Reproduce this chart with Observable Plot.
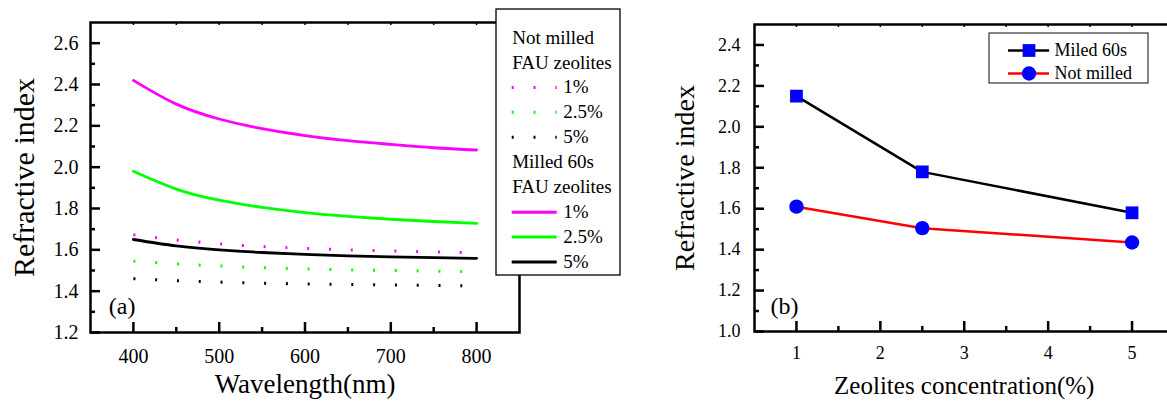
<!DOCTYPE html>
<html><head><meta charset="utf-8">
<script src="https://cdn.jsdelivr.net/npm/d3@7"></script>
<script src="https://cdn.jsdelivr.net/npm/@observablehq/plot@0.6"></script>
<style>
body{margin:0;background:#fff;}
#wrap{position:relative;width:1167px;height:401px;overflow:hidden;background:#fff;}
#wrap > svg{position:absolute;}
#wrap svg, #wrap svg text{font-family:"Liberation Serif","Times New Roman",serif !important;}
</style></head><body><div id="wrap"></div>
<script>
// ---------- data: panel (a) ----------
const wavelengths = [400, 450, 500, 550, 600, 650, 700, 750, 800];
const milled1  = [2.420, 2.305, 2.233, 2.186, 2.153, 2.128, 2.110, 2.094, 2.083];
const milled25 = [1.980, 1.894, 1.840, 1.805, 1.780, 1.762, 1.748, 1.737, 1.728];
const milled5  = [1.650, 1.619, 1.600, 1.587, 1.578, 1.571, 1.566, 1.562, 1.559];
const notMilled1  = [1.673, 1.648, 1.629, 1.616, 1.607, 1.600, 1.595, 1.590, 1.586];
const notMilled25 = [1.545, 1.532, 1.522, 1.514, 1.508, 1.503, 1.500, 1.497, 1.494];
const notMilled5  = [1.460, 1.451, 1.444, 1.439, 1.435, 1.432, 1.430, 1.428, 1.426];
const xTicksA = [400, 500, 600, 700, 800];
const xMinorA = [450, 550, 650, 750];
const yTicksA = [1.2, 1.4, 1.6, 1.8, 2.0, 2.2, 2.4, 2.6];
const yMinorA = [1.3, 1.5, 1.7, 1.9, 2.1, 2.3, 2.5];
const legendALabels = ["Not milled", "FAU zeolites", "1%", "2.5%", "5%", "Milled 60s", "FAU zeolites", "1%", "2.5%", "5%"];
const legendAColors = [null, null, "#FF00FF", "#00FF00", "#000000", null, null, "#FF00FF", "#00FF00", "#000000"];
const legendADotted = [false, false, true, true, true, false, false, false, false, false];

// ---------- data: panel (b) ----------
const concentrations = [1, 2.5, 5];
const miled60s = [2.15, 1.78, 1.58];
const notMilled = [1.61, 1.505, 1.435];
const xTicksB = [1, 2, 3, 4, 5];
const xMinorB = [1.5, 2.5, 3.5, 4.5];
const yTicksB = [1.0, 1.2, 1.4, 1.6, 1.8, 2.0, 2.2, 2.4];
const yMinorB = [1.1, 1.3, 1.5, 1.7, 1.9, 2.1, 2.3];
const legendBLabels = ["Miled 60s", "Not milled"];
const legendBLine = ["#000000", "#FF0000"];
const legendBSymbol = ["square", "circle"];

const FONT = '"Liberation Serif", "Times New Roman", serif';
const fmt1 = d3.format(".1f");
const wrap = document.getElementById("wrap");

function ticks(xMaj, xMin, yMaj, yMin, fw, fh) {
  return [
    Plot.ruleX(xMaj, {x: d => d, insetTop: fh - 10, stroke: "black", strokeWidth: 2.5}),
    Plot.ruleX(xMin, {x: d => d, insetTop: fh - 5, stroke: "black", strokeWidth: 2.5}),
    Plot.ruleY(yMaj, {y: d => d, insetRight: fw - 10, stroke: "black", strokeWidth: 2.5}),
    Plot.ruleY(yMin, {y: d => d, insetRight: fw - 5, stroke: "black", strokeWidth: 2.5}),
    Plot.ruleX([...xMaj, ...xMin], {x: d => d, insetBottom: fh - 3, stroke: "black", strokeWidth: 1.5})
  ];
}

// ---------- panel (a) ----------
const seriesA = [
  {values: notMilled1, color: "#FF00FF", dotted: true},
  {values: notMilled25, color: "#00FF00", dotted: true},
  {values: notMilled5, color: "#000000", dotted: true},
  {values: milled1, color: "#FF00FF", dotted: false},
  {values: milled25, color: "#00FF00", dotted: false},
  {values: milled5, color: "#000000", dotted: false}
];
const A = {W: 600, H: 401, mL: 90, mR: 81, mT: 22, mB: 69};
const fwA = A.W - A.mL - A.mR, fhA = A.H - A.mT - A.mB;
const plotA = Plot.plot({
  width: A.W, height: A.H,
  marginLeft: A.mL, marginRight: A.mR, marginTop: A.mT, marginBottom: A.mB,
  style: {fontFamily: FONT, background: "transparent"},
  axis: null,
  x: {domain: [350, 850]},
  y: {domain: [1.2, 2.7]},
  marks: [
    ...seriesA.map(s => Plot.line(wavelengths.map((w, i) => ({w, n: s.values[i]})), {
      x: "w", y: "n", stroke: s.color, curve: "natural",
      strokeWidth: s.dotted ? 3 : 2.8,
      strokeLinecap: s.dotted ? "butt" : "round",
      strokeDasharray: s.dotted ? "2,19.8" : null
    })),
    Plot.frame({stroke: "black", strokeWidth: 2.5}),
    ...ticks(xTicksA, xMinorA, yTicksA, yMinorA, fwA, fhA),
    Plot.text(yTicksA, {x: 350, y: d => d, text: d => fmt1(d), textAnchor: "end", dx: -12, fontSize: 20, fill: "black"}),
    Plot.text(xTicksA, {x: d => d, y: 1.2, text: d => String(d), lineAnchor: "top", dy: 16, fontSize: 20, fill: "black"}),
    Plot.text(["Wavelength(nm)"], {frameAnchor: "bottom", textAnchor: "middle", lineAnchor: "bottom", dy: 60.7, fontSize: 27, fill: "black"}),
    Plot.text(["Refractive index"], {frameAnchor: "left", rotate: -90, textAnchor: "middle", lineAnchor: "bottom", dx: -56.7, fontSize: 30, fill: "black"}),
    Plot.text(["(a)"], {frameAnchor: "bottom-left", textAnchor: "start", lineAnchor: "bottom", dx: 18.3, dy: -18.7, fontSize: 24, fill: "black"})
  ]
});
plotA.style.left = "0px"; plotA.style.top = "0px";
wrap.appendChild(plotA);

// ---------- panel (b) ----------
const B = {W: 600, H: 401, mL: 154, mR: 26.5, mT: 24, mB: 70};
const fwB = B.W - B.mL - B.mR, fhB = B.H - B.mT - B.mB;
const rowsMiled = concentrations.map((c, i) => ({c, n: miled60s[i]}));
const rowsNot = concentrations.map((c, i) => ({c, n: notMilled[i]}));
const plotB = Plot.plot({
  width: B.W, height: B.H,
  marginLeft: B.mL, marginRight: B.mR, marginTop: B.mT, marginBottom: B.mB,
  style: {fontFamily: FONT, background: "transparent"},
  axis: null,
  x: {domain: [0.5, 5.5]},
  y: {domain: [1.0, 2.5]},
  marks: [
    Plot.line(rowsMiled, {x: "c", y: "n", stroke: "#000000", strokeWidth: 2.5}),
    Plot.line(rowsNot, {x: "c", y: "n", stroke: "#FF0000", strokeWidth: 2.5}),
    Plot.dot(rowsMiled, {x: "c", y: "n", symbol: "square", r: 7.2, fill: "#0000FF"}),
    Plot.dot(rowsNot, {x: "c", y: "n", symbol: "circle", r: 7.2, fill: "#0000FF"}),
    Plot.frame({stroke: "black", strokeWidth: 2.5}),
    ...ticks(xTicksB, xMinorB, yTicksB, yMinorB, fwB, fhB),
    Plot.text(yTicksB, {x: 0.5, y: d => d, text: d => fmt1(d), textAnchor: "end", dx: -14, fontSize: 18, fill: "black"}),
    Plot.text(xTicksB, {x: d => d, y: 1.0, text: d => String(d), lineAnchor: "top", dy: 15, fontSize: 18, fill: "black"}),
    Plot.text(["Zeolites concentration(%)"], {frameAnchor: "bottom", textAnchor: "middle", lineAnchor: "bottom", dy: 62.3, fontSize: 25, fill: "black"}),
    Plot.text(["Refractive index"], {frameAnchor: "left", rotate: -90, textAnchor: "middle", lineAnchor: "bottom", dx: -60.7, fontSize: 28, fill: "black"}),
    Plot.text(["(b)"], {frameAnchor: "bottom-left", textAnchor: "start", lineAnchor: "bottom", dx: 16, dy: -17.7, fontSize: 24, fill: "black"})
  ]
});
plotB.style.left = "600px"; plotB.style.top = "0px";
wrap.appendChild(plotB);

// ---------- legend (a) ----------
const rowsA = legendALabels.map((label, i) => ({label, y: 37 + i * 24.95, color: legendAColors[i], dotted: legendADotted[i]}));
const legA = Plot.plot({
  width: 132, height: 272, margin: 0, axis: null,
  style: {fontFamily: FONT, background: "transparent"},
  x: {domain: [494, 626], range: [0, 132]},
  y: {domain: [7, 279], range: [0, 272]},
  marks: [
    Plot.rect([0], {x1: 496, x2: 620, y1: 9, y2: 275, fill: "white", stroke: "black", strokeWidth: 1.3}),
    ...rowsA.filter(r => r.color).map(r => Plot.ruleY([r.y], {
      x1: 511.7, x2: 556.7, stroke: r.color, strokeWidth: 3,
      strokeLinecap: "butt", strokeDasharray: r.dotted ? "2,19.8" : null
    })),
    Plot.text(rowsA, {x: d => d.color ? 562.7 : 511.7, y: "y", text: "label", textAnchor: "start", fontSize: 19, fill: "black"})
  ]
});
legA.style.left = "494px"; legA.style.top = "7px";
wrap.appendChild(legA);

// ---------- legend (b) ----------
const rowsB = legendBLabels.map((label, i) => ({label, y: 50 + i * 23, line: legendBLine[i], symbol: legendBSymbol[i]}));
const legB = Plot.plot({
  width: 162, height: 53, margin: 0, axis: null,
  style: {fontFamily: FONT, background: "transparent"},
  x: {domain: [988, 1150], range: [0, 162]},
  y: {domain: [32, 85], range: [0, 53]},
  marks: [
    Plot.rect([0], {x1: 989, x2: 1148, y1: 33, y2: 83, fill: "white", stroke: "#333", strokeWidth: 1.2}),
    ...rowsB.map(r => Plot.ruleY([r.y], {x1: 1008, x2: 1049, stroke: r.line, strokeWidth: 2.5})),
    ...rowsB.map(r => Plot.dot([r], {x: 1028.5, y: "y", symbol: r.symbol, r: 7.2, fill: "#0000FF"})),
    Plot.text(rowsB, {x: 1054, y: "y", text: "label", textAnchor: "start", fontSize: 18, fill: "black"})
  ]
});
legB.style.left = "988px"; legB.style.top = "32px";
wrap.appendChild(legB);
</script></body></html>
